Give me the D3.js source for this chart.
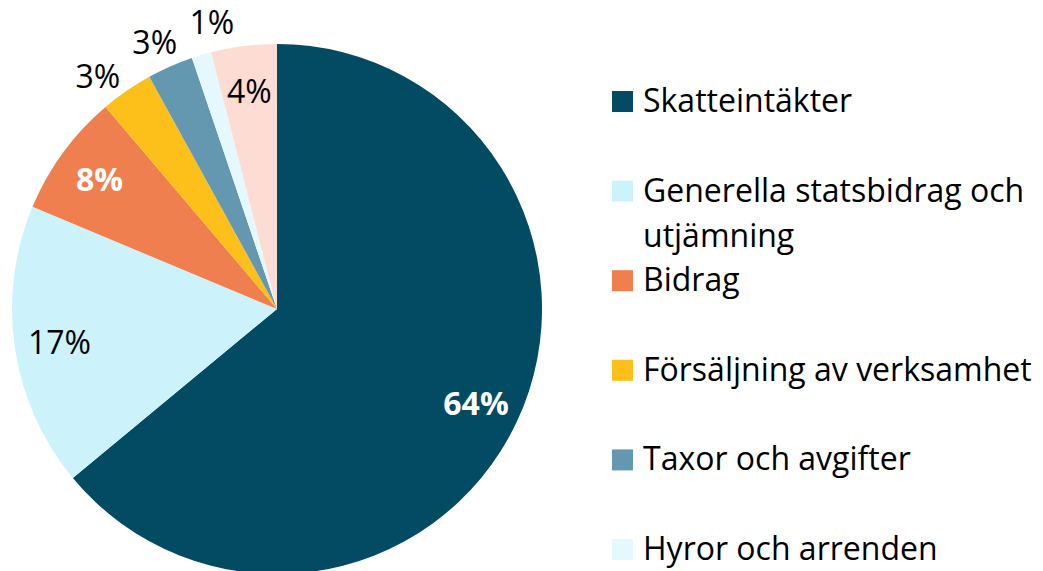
<!DOCTYPE html>
<html>
<head>
<meta charset="utf-8">
<script src="https://cdn.jsdelivr.net/npm/d3@7"></script>
<style>
  html, body { margin: 0; padding: 0; background: #fff; }
  svg { display: block; }
</style>
</head>
<body>
<div id="chart"></div>
<script>
// Intäkter per slag, andel i procent
const categories = [
    "Skatteintäkter",
    "Generella statsbidrag och utjämning",
    "Bidrag",
    "Försäljning av verksamhet",
    "Taxor och avgifter",
    "Hyror och arrenden",
    "Övriga intäkter"
];
const values = [64.0, 17.3, 7.5, 3.2, 2.8, 1.2, 4.0];
const labels = ["64%", "17%", "8%", "3%", "3%", "1%", "4%"];
const colors = ["#024b63", "#ccf3fb", "#f07f4f", "#fdbf19", "#6398b0", "#e5f8fd", "#fdddd3"];
const labelColors = ["#ffffff", "#000000", "#ffffff", "#000000", "#000000", "#000000", "#000000"];
const labelBold = [true, false, true, false, false, false, false];

const W = 1043, H = 571;
const cx = 277, cy = 309, radius = 265;
const fontFamily = "'Open Sans', Lato, sans-serif";

const svg = d3.select("#chart")
    .append("svg")
    .attr("width", W)
    .attr("height", H);

const data = categories.map((c, i) => ({ name: c, value: values[i], i }));

const pie = d3.pie()
    .sort(null)
    .value(d => d.value);

const arcs = pie(data);

const arc = d3.arc()
    .innerRadius(0)
    .outerRadius(radius);

const g = svg.append("g")
    .attr("transform", "translate(" + cx + "," + cy + ")");

g.selectAll("path")
    .data(arcs)
    .enter()
    .append("path")
    .attr("d", arc)
    .attr("fill", d => colors[d.data.i]);

// etiketter: stora tårtbitar inne, små utanför
const rIn = radius * 0.83, rOut = radius * 1.11;
arcs.forEach(d => {
    d.outside = d.data.value < 3.5;
    d.la = (d.startAngle + d.endAngle) / 2;
    d.lr = d.outside ? rOut : rIn;
});
const pos = d => [d.lr * Math.sin(d.la), -d.lr * Math.cos(d.la)];

const lbl = g.selectAll("text.lbl")
    .data(arcs)
    .enter()
    .append("text")
    .attr("class", "lbl")
    .attr("text-anchor", "middle")
    .attr("dy", "0.38em")
    .style("font-family", fontFamily)
    .style("font-size", "32px")
    .style("font-weight", d => labelBold[d.data.i] ? "bold" : "normal")
    .attr("fill", d => labelColors[d.data.i])
    .text(d => labels[d.data.i]);

// skjut isär yttre etiketter som krockar
lbl.each(function (d) { d.w = this.getComputedTextLength(); });
const outer = arcs.filter(d => d.outside).sort((a, b) => a.la - b.la);
const pad = 12, lh = 24;
for (let it = 0; it < 400; it++) {
    let moved = false;
    for (let k = 0; k < outer.length - 1; k++) {
        const a = outer[k], b = outer[k + 1];
        const pa = pos(a), pb = pos(b);
        const ox = Math.abs(pa[0] - pb[0]) < (a.w + b.w) / 2 + pad;
        const oy = Math.abs(pa[1] - pb[1]) < lh + pad;
        if (ox && oy) {
            a.la -= 0.002;
            b.la += 0.002;
            moved = true;
        }
    }
    if (!moved) break;
}

lbl.attr("transform", d => "translate(" + pos(d)[0] + "," + pos(d)[1] + ")");

// legend
const legendX = 612, legendY = 91, rowStep = 89.6, box = 21, lineH = 45;
const legend = svg.append("g")
    .attr("transform", "translate(" + legendX + "," + legendY + ")");

const rows = legend.selectAll("g")
    .data(data)
    .enter()
    .append("g")
    .attr("transform", (d, i) => "translate(0," + (i * rowStep) + ")");

rows.append("rect")
    .attr("width", box)
    .attr("height", box)
    .attr("fill", d => colors[d.i]);

rows.append("text")
    .attr("x", 31)
    .attr("y", box)
    .style("font-family", fontFamily)
    .style("font-size", "32px")
    .attr("fill", "#000")
    .each(function (d) {
        const t = d3.select(this);
        // radbrytning som i originalet
        const parts = d.name === "Generella statsbidrag och utjämning"
            ? ["Generella statsbidrag och", "utjämning"]
            : [d.name];
        parts.forEach((p, k) => {
            t.append("tspan")
                .attr("x", 31)
                .attr("dy", k === 0 ? 0 : lineH)
                .text(p);
        });
    });
</script>
</body>
</html>
